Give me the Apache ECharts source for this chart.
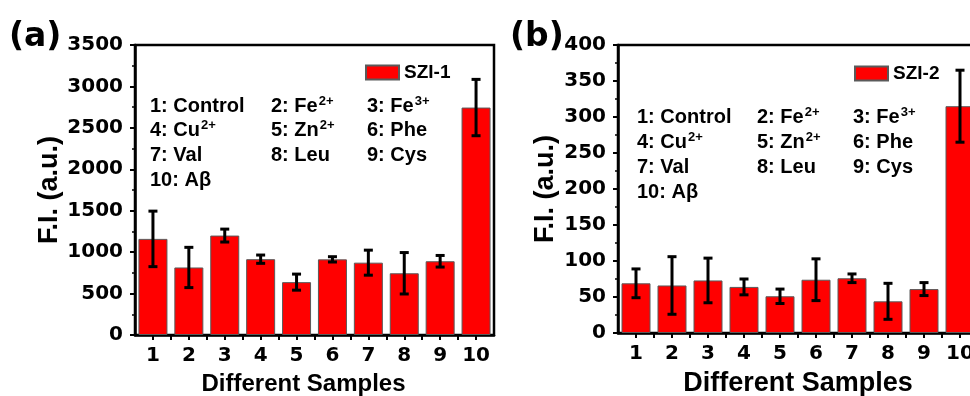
<!DOCTYPE html>
<html>
<head>
<meta charset="utf-8">
<script src="https://cdn.jsdelivr.net/npm/echarts@6/dist/echarts.min.js"></script>
<style>
  html, body { margin: 0; padding: 0; background: #fff; }
  #chart { width: 970px; height: 396px; }
</style>
</head>
<body>
<div id="chart"></div>
<script>
// Sample numbering on the x axis
const categories = ['1', '2', '3', '4', '5', '6', '7', '8', '9', '10'];

// Key to the sample numbers: [text, superscript]
const sampleKey = [
  ['1: Control', ''], ['2: Fe', '2+'], ['3: Fe', '3+'],
  ['4: Cu', '2+'], ['5: Zn', '2+'], ['6: Phe', ''],
  ['7: Val', ''], ['8: Leu', ''], ['9: Cys', ''],
  ['10: A\u03b2', '']
];

// Panel (a): SZI-1 fluorescence intensity (mean, error)
const seriesNameA = 'SZI-1';
const valuesA = [1160, 815, 1200, 915, 638, 913, 873, 745, 890, 2745];
const errorsA = [335, 243, 78, 50, 97, 32, 151, 250, 70, 340];

// Panel (b): SZI-2 fluorescence intensity (mean, error)
const seriesNameB = 'SZI-2';
const valuesB = [69, 66, 73, 64, 51, 74, 76, 44, 61, 315];
const errorsB = [20, 40, 31, 11, 10, 29, 6, 25, 9, 50];

// Y-axis ranges [min, max, step]
const yRangeA = [0, 3500, 500];
const yRangeB = [0, 400, 50];

const FONT = '"Liberation Sans", Arial, sans-serif';
const TICK_FONT = '"DejaVu Sans", sans-serif';
const BLACK = '#000';

function xAxisFor(gridIndex, nameSize, namePad) {
  return {
    gridIndex: gridIndex,
    type: 'value',
    min: 0.5, max: 10.5, interval: 0.5,
    name: 'Different Samples',
    nameLocation: 'middle',
    nameGap: 37,
    nameTextStyle: { fontFamily: FONT, fontWeight: 'bold', fontSize: nameSize, color: BLACK, padding: namePad },
    axisLine: { show: true, onZero: false, lineStyle: { color: BLACK, width: 2.5 } },
    axisTick: { show: true, inside: false, length: 5, lineStyle: { color: BLACK, width: 2 } },
    axisLabel: {
      margin: 11, fontFamily: TICK_FONT, fontWeight: 'bold', fontSize: 20, color: BLACK,
      showMinLabel: false, showMaxLabel: false,
      formatter: v => (Number.isInteger(v) && v >= 1 && v <= categories.length) ? categories[v - 1] : ''
    },
    splitLine: { show: false }
  };
}

function yAxisFor(gridIndex, range, nameGap) {
  return {
    gridIndex: gridIndex,
    type: 'value',
    min: range[0], max: range[1], interval: range[2],
    name: 'F.I. (a.u.)',
    nameLocation: 'middle',
    nameGap: nameGap,
    nameTextStyle: { fontFamily: FONT, fontWeight: 'bold', fontSize: 27, color: BLACK },
    axisLine: { show: true, lineStyle: { color: BLACK, width: 2.5 } },
    axisTick: { show: true, inside: false, length: 5, lineStyle: { color: BLACK, width: 2 } },
    minorTick: { show: true, splitNumber: 2, length: 3, lineStyle: { color: BLACK, width: 1.5 } },
    axisLabel: {
      margin: 12, fontFamily: TICK_FONT, fontWeight: 'bold', fontSize: 20, color: BLACK,
      formatter: v => String(v)
    },
    splitLine: { show: false }
  };
}

function barSeries(name, values, idx) {
  return {
    name: name,
    type: 'bar',
    xAxisIndex: idx, yAxisIndex: idx,
    barWidth: 29,
    itemStyle: { color: '#ff0000', borderColor: '#5a5a5a', borderWidth: 1 },
    data: values.map((v, i) => [i + 1, v]),
    z: 2
  };
}

function errorSeries(values, errors, idx) {
  return {
    type: 'custom',
    xAxisIndex: idx, yAxisIndex: idx,
    silent: true,
    z: 5,
    data: values.map((v, i) => [i + 1, v - errors[i], v + errors[i]]),
    renderItem: function (params, api) {
      const lo = api.coord([api.value(0), api.value(1)]);
      const hi = api.coord([api.value(0), api.value(2)]);
      const cap = 4.5;
      const style = { stroke: BLACK, lineWidth: 3 };
      return {
        type: 'group',
        children: [
          { type: 'line', shape: { x1: hi[0], y1: hi[1], x2: lo[0], y2: lo[1] }, style: style },
          { type: 'line', shape: { x1: hi[0] - cap, y1: hi[1], x2: hi[0] + cap, y2: hi[1] }, style: style },
          { type: 'line', shape: { x1: lo[0] - cap, y1: lo[1], x2: lo[0] + cap, y2: lo[1] }, style: style }
        ]
      };
    }
  };
}

// Sample key annotation drawn as rich text
function keyGraphics(colX, rowY) {
  return sampleKey.map((k, i) => ({
    type: 'text',
    x: colX[i % 3],
    y: rowY[Math.floor(i / 3)],
    style: {
      text: k[1] ? '{n|' + k[0] + '}{s|' + k[1] + '}' : '{n|' + k[0] + '}',
      verticalAlign: 'middle',
      rich: {
        n: { fontFamily: FONT, fontWeight: 'bold', fontSize: 20, fill: BLACK, lineHeight: 22 },
        s: { fontFamily: FONT, fontWeight: 'bold', fontSize: 13, fill: BLACK, verticalAlign: 'top', lineHeight: 22, padding: [0, 0, 6, 1] }
      }
    },
    z: 10
  }));
}

const legendText = { fontFamily: FONT, fontWeight: 'bold', fontSize: 19, color: BLACK };
const panelLabel = { fontFamily: TICK_FONT, fontWeight: 'bold', fontSize: 33, fill: BLACK, verticalAlign: 'middle' };

const option = {
  animation: false,
  backgroundColor: '#fff',
  grid: [
    { left: 135, top: 45, width: 359, height: 290, outerBoundsMode: 'none', containLabel: false,
      show: true, borderColor: BLACK, borderWidth: 2.5, backgroundColor: 'transparent' },
    { left: 618, top: 45, width: 360, height: 288, outerBoundsMode: 'none', containLabel: false,
      show: true, borderColor: BLACK, borderWidth: 2.5, backgroundColor: 'transparent' }
  ],
  legend: [
    { data: [seriesNameA], left: 365, top: 63, itemWidth: 33, itemHeight: 14, icon: 'rect', textStyle: legendText, padding: 0 },
    { data: [seriesNameB], left: 854, top: 64, itemWidth: 33, itemHeight: 14, icon: 'rect', textStyle: legendText, padding: 0 }
  ],
  xAxis: [xAxisFor(0, 24, [0, 22, 0, 0]), xAxisFor(1, 27, 0)],
  yAxis: [yAxisFor(0, yRangeA, 71), yAxisFor(1, yRangeB, 59)],
  series: [
    barSeries(seriesNameA, valuesA, 0),
    errorSeries(valuesA, errorsA, 0),
    barSeries(seriesNameB, valuesB, 1),
    errorSeries(valuesB, errorsB, 1)
  ],
  graphic: [
    { type: 'text', x: 9, y: 37, style: Object.assign({ text: '(a)' }, panelLabel) },
    { type: 'text', x: 510, y: 37, style: Object.assign({ text: '(b)' }, panelLabel) }
  ].concat(keyGraphics([150, 271, 367], [106, 130, 155, 180]))
   .concat(keyGraphics([637, 757, 853], [117, 142, 167, 192]))
};

const chart = echarts.init(document.getElementById('chart'), null, { renderer: 'canvas' });
chart.setOption(option);
</script>
</body>
</html>
